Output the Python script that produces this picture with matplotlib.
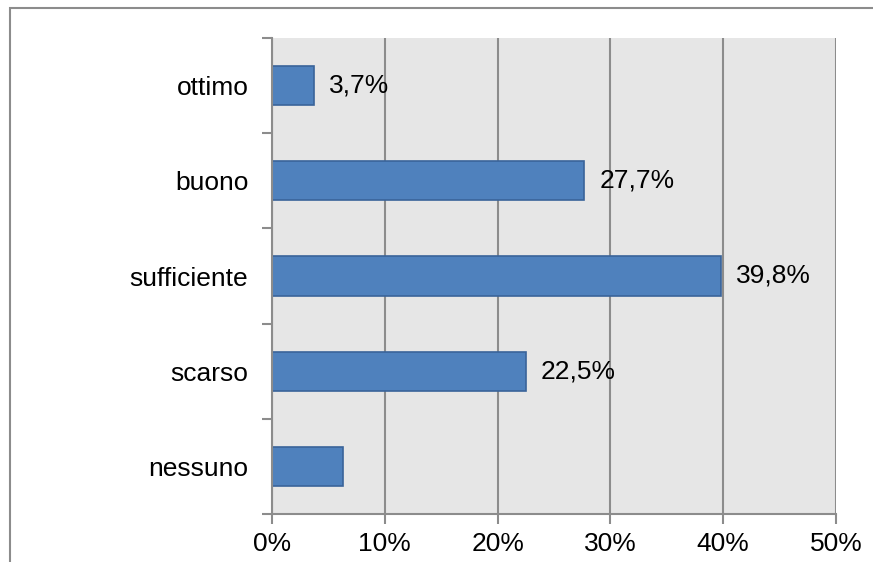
import matplotlib.pyplot as plt
from matplotlib.patches import Rectangle
import numpy as np

plt.rcParams['font.family'] = ['Liberation Sans', 'DejaVu Sans']

categorie = ['nessuno', 'scarso', 'sufficiente', 'buono', 'ottimo']
valori = [6.3, 22.5, 39.8, 27.7, 3.7]
etichette = ['', '22,5%', '39,8%', '27,7%', '3,7%']
xticks = [0, 10, 20, 30, 40, 50]

grigio = '#8c8c8c'
fs = 19

fig = plt.figure(figsize=(8.73, 5.62), dpi=100)
ax = fig.add_axes([272 / 873, 1 - 514 / 562, (836 - 272) / 873, (514 - 38) / 562])
ax.set_facecolor('#e6e6e6')

y = np.arange(len(categorie))
ax.barh(y, valori, height=0.41, color='#4f81bd', edgecolor='#3a649a', linewidth=1.2, zorder=3)

for yi, v, lab in zip(y, valori, etichette):
    if lab:
        ax.annotate(lab, (v, yi), xytext=(11, 0), textcoords='offset points',
                    va='center', ha='left', fontsize=fs)

ax.set_xlim(0, 50)
ax.set_ylim(-0.5, len(categorie) - 0.5)
ax.set_xticks(xticks)
ax.set_xticklabels([f'{t}%' for t in xticks], fontsize=fs)
ax.set_yticks(np.arange(-0.5, len(categorie)))
ax.set_yticklabels([])
ax.set_yticks(y, minor=True)
ax.set_yticklabels(categorie, minor=True, fontsize=fs)
ax.tick_params(axis='y', which='minor', length=0, pad=17)
ax.tick_params(axis='y', which='major', length=7, width=1.5, color=grigio)
ax.tick_params(axis='x', length=7, width=1.5, color=grigio, pad=6)

ax.grid(axis='x', color=grigio, linewidth=1.5, zorder=1)
ax.set_axisbelow(True)
for s in ['top', 'right']:
    ax.spines[s].set_visible(False)
for s in ['left', 'bottom']:
    ax.spines[s].set_color(grigio)
    ax.spines[s].set_linewidth(1.5)
    ax.spines[s].set_zorder(4)

# cornice esterna del grafico
fig.patches.append(Rectangle((9.5 / 873, -0.1), 1.2, 1 - 7.5 / 562 + 0.1, transform=fig.transFigure,
                             fill=False, edgecolor=grigio, linewidth=1.5))

fig.savefig('out.png', dpi=100)
